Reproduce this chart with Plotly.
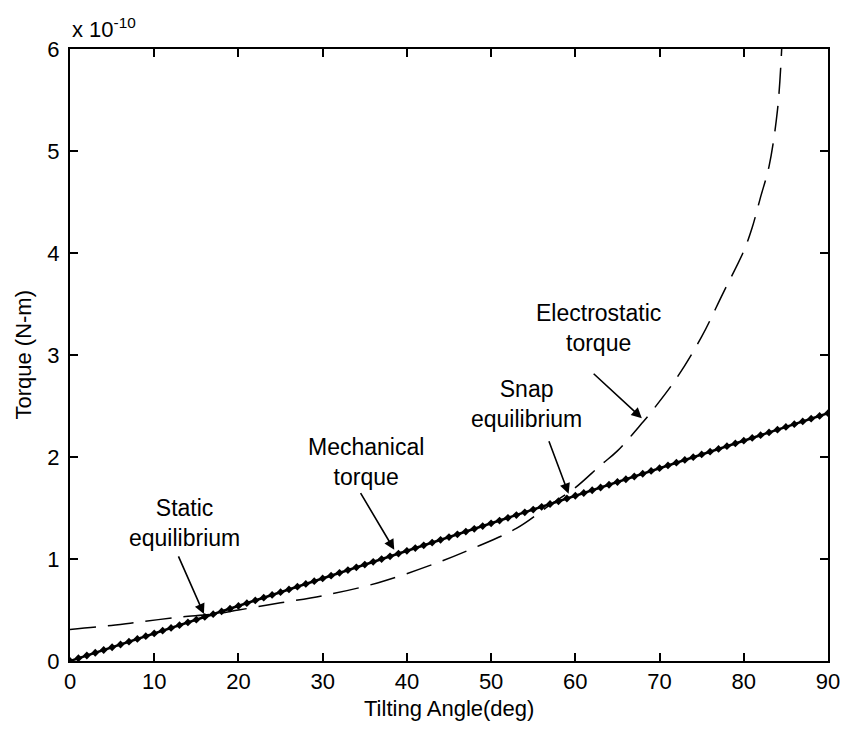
import plotly.graph_objects as go

# Data (torque in units of 1e-10 N-m)
mech_x = list(range(0, 91))
mech_slope = 0.027
mech_y = [mech_slope * a for a in mech_x]

elec_x = [0, 4, 8, 13, 17, 20, 25, 30, 36.5, 43.5, 48, 53, 57, 60, 63, 65, 68, 69, 72, 75, 77.5, 80, 81, 82, 83, 84, 84.5]
elec_y = [0.31, 0.34, 0.38, 0.43, 0.46, 0.50, 0.57, 0.64, 0.765, 0.96, 1.11, 1.30, 1.53, 1.70, 1.92, 2.06, 2.34, 2.44, 2.77, 3.18, 3.60, 4.02, 4.25, 4.55, 4.85, 5.40, 6.0]

x_ticks = [0, 10, 20, 30, 40, 50, 60, 70, 80, 90]
y_ticks = [0, 1, 2, 3, 4, 5, 6]

# label texts, text centers, and arrow (start -> tip) in data coords
labels = ["Static<br>equilibrium", "Mechanical<br>torque", "Snap<br>equilibrium", "Electrostatic<br>torque"]
label_x = [13.6, 35.2, 54.2, 62.7]
label_y = [1.35, 1.95, 2.52, 3.26]
arrow_from_x = [12.8, 34.4, 56.8, 62.0]
arrow_from_y = [1.04, 1.66, 2.17, 2.83]
arrow_to_x = [15.9, 38.5, 59.2, 67.9]
arrow_to_y = [0.46, 1.09, 1.64, 2.38]

FONT = "Liberation Sans, Arial, sans-serif"

fig = go.Figure()
fig.add_trace(go.Scatter(x=elec_x, y=elec_y, mode="lines",
                         line=dict(color="black", width=1.5, dash="26px,12px"),
                         line_shape="spline", showlegend=False))
fig.add_trace(go.Scatter(x=mech_x, y=mech_y, mode="lines+markers",
                         line=dict(color="black", width=2.5),
                         marker=dict(color="black", size=6, symbol="diamond"),
                         showlegend=False))

annotations = []
for t, tx, ty in zip(labels, label_x, label_y):
    annotations.append(dict(x=tx, y=ty, xref="x", yref="y", text=t, showarrow=False,
                            font=dict(family=FONT, size=23, color="black"),
                            xanchor="center", yanchor="middle", align="center"))
for fx, fy, tx, ty in zip(arrow_from_x, arrow_from_y, arrow_to_x, arrow_to_y):
    annotations.append(dict(x=tx, y=ty, xref="x", yref="y", ax=fx, ay=fy,
                            axref="x", ayref="y", text="", showarrow=True,
                            arrowhead=2, arrowsize=1.3, arrowwidth=1.6, arrowcolor="black"))
annotations.append(dict(x=0, y=1.008, xref="paper", yref="paper", text="x 10<sup>-10</sup>",
                        showarrow=False, xanchor="left", yanchor="bottom",
                        font=dict(family=FONT, size=22, color="black")))
annotations.append(dict(x=0.5, y=-0.078, xref="paper", yref="paper", text="Tilting Angle(deg)",
                        showarrow=False, xanchor="center", yanchor="middle",
                        font=dict(family=FONT, size=22, color="black")))
annotations.append(dict(x=(22 - 70) / 767, y=0.5, xref="paper", yref="paper", text="Torque (N-m)",
                        showarrow=False, xanchor="center", yanchor="middle", textangle=-90,
                        font=dict(family=FONT, size=22, color="black")))

axis_common = dict(showgrid=False, zeroline=False, showline=True, linecolor="black", linewidth=2,
                   mirror="ticks", ticks="inside", ticklen=8, tickwidth=1.5, tickcolor="black",
                   tickfont=dict(family=FONT, size=22, color="black"))

fig.update_layout(
    width=852, height=731,
    margin=dict(l=70, r=15, t=49, b=70),
    paper_bgcolor="white", plot_bgcolor="white",
    xaxis=dict(range=[0, 90], tickvals=x_ticks, ticktext=[str(v) for v in x_ticks], **axis_common),
    yaxis=dict(range=[0, 6], tickvals=y_ticks, ticktext=[str(v) for v in y_ticks],
               ticklabelstandoff=4, **axis_common),
    annotations=annotations,
)

fig.write_html("out.html")
